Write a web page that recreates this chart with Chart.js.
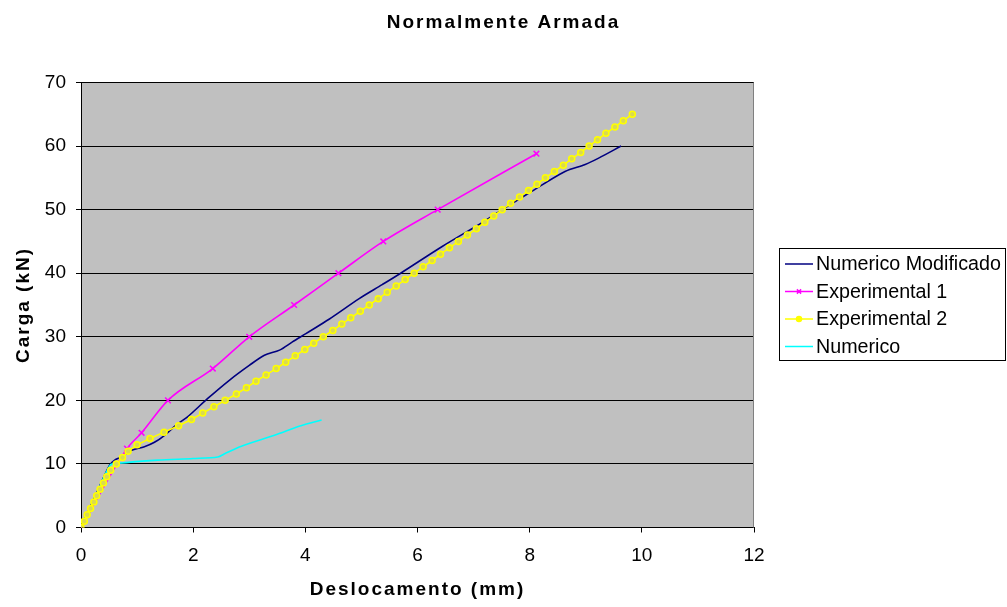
<!DOCTYPE html>
<html><head><meta charset="utf-8">
<script src="https://cdn.jsdelivr.net/npm/chart.js@4/dist/chart.umd.min.js"></script>
<style>html,body{margin:0;padding:0;background:#fff}canvas{display:block}</style>
</head><body>
<canvas id="c" width="1007" height="607"></canvas>
<script>
const chartTitle = 'Normalmente Armada';
const xAxisTitle = 'Deslocamento (mm)';
const yAxisTitle = 'Carga (kN)';
const seriesNames = ['Numerico Modificado', 'Experimental 1', 'Experimental 2', 'Numerico'];
const xTickValues = [0, 2, 4, 6, 8, 10, 12];
const yTickValues = [0, 10, 20, 30, 40, 50, 60, 70];

const numModX = [0, 0.25, 0.51, 0.60, 0.72, 0.89, 1.13, 1.31, 1.49, 1.72, 1.90, 2.26, 2.65, 3.00, 3.27, 3.54, 3.77, 4.01, 4.43, 4.96, 5.37, 5.70, 6.44, 7.18, 7.51, 8.04, 8.63, 8.99, 9.23, 9.63];
const numModY = [0, 4.9, 9.8, 10.6, 11.1, 12.1, 12.7, 13.4, 14.5, 16.3, 17.4, 20.3, 23.2, 25.5, 27.1, 27.9, 29.2, 30.5, 32.8, 36.0, 38.2, 40.0, 44.2, 48.1, 50.0, 52.9, 56.0, 57.1, 58.1, 60.0];

const exp1X = [0, 0.82, 1.08, 1.55, 2.35, 3.00, 3.80, 4.59, 5.39, 6.36, 8.12];
const exp1Y = [0, 12.4, 14.9, 20.0, 25.0, 30.0, 35.0, 40.0, 45.0, 50.0, 58.8];

const exp2X = [0, 0.06, 0.11, 0.17, 0.23, 0.28, 0.34, 0.40, 0.46, 0.53, 0.63, 0.74, 0.84, 1.00, 1.23, 1.48, 1.74, 1.97, 2.17, 2.37, 2.57, 2.77, 2.95, 3.12, 3.30, 3.48, 3.65, 3.82, 3.99, 4.15, 4.32, 4.49, 4.65, 4.81, 4.98, 5.14, 5.30, 5.46, 5.62, 5.78, 5.94, 6.10, 6.26, 6.41, 6.57, 6.73, 6.89, 7.05, 7.20, 7.36, 7.51, 7.66, 7.82, 7.98, 8.13, 8.28, 8.44, 8.60, 8.75, 8.91, 9.06, 9.21, 9.36, 9.52, 9.67, 9.83];
const exp2Y = [0, 1, 2, 3, 4, 5, 6, 7, 8, 9, 10, 11, 12, 13, 14, 15, 16, 17, 18, 19, 20, 21, 22, 23, 24, 25, 26, 27, 28, 29, 30, 31, 32, 33, 34, 35, 36, 37, 38, 39, 40, 41, 42, 43, 44, 45, 46, 47, 48, 49, 50, 51, 52, 53, 54, 55, 56, 57, 58, 59, 60, 61, 62, 63, 64, 65];

const numX = [0, 0.25, 0.52, 0.66, 1.37, 2.00, 2.44, 2.56, 2.86, 3.45, 3.92, 4.29];
const numY = [0, 4.7, 9.8, 10.1, 10.6, 10.85, 11.1, 11.6, 12.8, 14.5, 16.0, 16.9];

const seriesColors = ['#000080', '#FF00FF', '#FFFF00', '#00FFFF'];

function pts(xs, ys) { return xs.map((x, i) => ({x: x, y: ys[i]})); }

// bold titles in the reference are rendered with wide letter spacing
const origFill = CanvasRenderingContext2D.prototype.fillText;
CanvasRenderingContext2D.prototype.fillText = function () {
  if (this.font.indexOf('bold') !== -1) {
    const prev = this.letterSpacing;
    this.letterSpacing = '2px';
    origFill.apply(this, arguments);
    this.letterSpacing = prev;
  } else {
    origFill.apply(this, arguments);
  }
};

const bgPlugin = {
  id: 'bg',
  beforeDraw(chart) {
    const {ctx, chartArea: a} = chart;
    ctx.save();
    ctx.fillStyle = '#FFFFFF';
    ctx.fillRect(0, 0, chart.width, chart.height);
    ctx.fillStyle = '#C0C0C0';
    ctx.fillRect(a.left, a.top, a.right - a.left, a.bottom - a.top);
    ctx.restore();
  },
  afterDatasetsDraw(chart) {
    const {ctx, chartArea: a} = chart;
    ctx.save();
    ctx.strokeStyle = '#808080';
    ctx.lineWidth = 1;
    ctx.beginPath();
    ctx.moveTo(Math.round(a.right) - 0.5, a.top);
    ctx.lineTo(Math.round(a.right) - 0.5, a.bottom);
    ctx.stroke();
    ctx.restore();
  }
};

const legendPlugin = {
  id: 'boxLegend',
  afterDraw(chart) {
    const ctx = chart.ctx;
    const bx = 779.5, by = 248.5, bw = 226, bh = 112;
    ctx.save();
    ctx.fillStyle = '#FFFFFF';
    ctx.fillRect(bx, by, bw, bh);
    ctx.strokeStyle = '#000000';
    ctx.lineWidth = 1;
    ctx.strokeRect(bx, by, bw, bh);
    const rowY0 = 264, rowStep = 27.5;
    seriesNames.forEach((name, i) => {
      const ds = chart.data.datasets.find(d => d.label === name);
      const y = rowY0 + i * rowStep;
      ctx.strokeStyle = ds.borderColor;
      ctx.fillStyle = ds.borderColor;
      ctx.lineWidth = 1.5;
      ctx.beginPath();
      ctx.moveTo(785, y);
      ctx.lineTo(813, y);
      ctx.stroke();
      if (ds.pointStyle && ds.pointRadius > 0) {
        Chart.helpers.drawPoint(ctx, {
          pointStyle: ds.pointStyle,
          radius: ds.pointStyle === 'circle' ? 2.5 : 3,
          borderWidth: 1.5,
          rotation: 0
        }, 799, y);
      }
      ctx.fillStyle = '#000000';
      ctx.font = '19.7px "Liberation Sans", Arial, sans-serif';
      ctx.textAlign = 'left';
      ctx.textBaseline = 'middle';
      ctx.fillText(name, 816, y + 1);
    });
    ctx.restore();
  }
};

Chart.defaults.font.family = '"Liberation Sans", Arial, sans-serif';
Chart.defaults.color = '#000000';

new Chart(document.getElementById('c'), {
  type: 'scatter',
  data: {
    datasets: [
      {
        label: seriesNames[0], data: pts(numModX, numModY), showLine: true,
        borderColor: seriesColors[0], backgroundColor: seriesColors[0], borderWidth: 1.6,
        pointRadius: 0, pointStyle: false, tension: 0.3, order: 3
      },
      {
        label: seriesNames[1], data: pts(exp1X, exp1Y), showLine: true,
        borderColor: seriesColors[1], backgroundColor: seriesColors[1], borderWidth: 1.6,
        pointStyle: 'crossRot', pointRadius: 4, pointBorderWidth: 1.5,
        pointBorderColor: seriesColors[1], cubicInterpolationMode: 'monotone', order: 1
      },
      {
        label: seriesNames[2], data: pts(exp2X, exp2Y), showLine: true,
        borderColor: seriesColors[2], backgroundColor: seriesColors[2], borderWidth: 1.6,
        pointStyle: 'circle', pointRadius: 3, pointBorderWidth: 1.5,
        pointBorderColor: seriesColors[2], pointBackgroundColor: '#DADA50', tension: 0, order: 0
      },
      {
        label: seriesNames[3], data: pts(numX, numY), showLine: true,
        borderColor: seriesColors[3], backgroundColor: seriesColors[3], borderWidth: 1.6,
        pointRadius: 0, pointStyle: false, tension: 0.3, order: 2
      }
    ]
  },
  options: {
    responsive: false,
    animation: false,
    devicePixelRatio: 1,
    layout: {padding: 0},
    plugins: {
      legend: {display: false},
      tooltip: {enabled: false},
      title: {
        display: true, text: chartTitle, color: '#000',
        font: {size: 19, weight: 'bold'},
        padding: {top: 11.6, bottom: 48.1}
      }
    },
    scales: {
      x: {
        type: 'linear', min: 0, max: 12,
        afterFit(s) { s.height = 79.5; },
        afterBuildTicks(s) { s.ticks = xTickValues.map(v => ({value: v})); },
        grid: {drawOnChartArea: false, drawTicks: true, tickLength: 5, color: '#000000'},
        border: {color: '#000000', width: 1},
        ticks: {font: {size: 19}, padding: 11.6, maxRotation: 0, color: '#000'},
        title: {display: true, text: xAxisTitle, font: {size: 19, weight: 'bold'}, padding: {top: 0, bottom: 5.6}, color: '#000'}
      },
      y: {
        type: 'linear', min: 0, max: 70,
        afterFit(s) { s.width = 81; },
        afterBuildTicks(s) { s.ticks = yTickValues.map(v => ({value: v})); },
        grid: {drawOnChartArea: true, drawTicks: true, tickLength: 5, color: '#000000'},
        border: {color: '#000000', width: 1},
        ticks: {font: {size: 19}, padding: 10, color: '#000'},
        title: {display: true, text: yAxisTitle, font: {size: 19, weight: 'bold'}, padding: {top: 12.8, bottom: 0}, color: '#000'}
      },
      legendSpace: {
        type: 'linear', position: 'right', display: true, min: 0, max: 70,
        afterFit(s) { s.width = 253; },
        grid: {display: false, drawTicks: false},
        border: {display: false},
        ticks: {display: false},
        title: {display: false}
      }
    }
  },
  plugins: [bgPlugin, legendPlugin]
});
</script>
</body></html>
